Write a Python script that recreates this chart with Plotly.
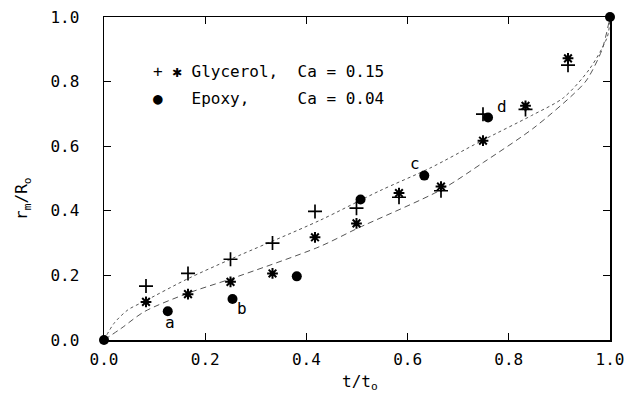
import plotly.graph_objects as go

# Glycerol, Ca = 0.15 (two runs: plus and asterisk)
gly_plus_x = [0.083, 0.166, 0.25, 0.333, 0.417, 0.499, 0.583, 0.666, 0.749, 0.833, 0.917]
gly_plus_y = [0.167, 0.206, 0.25, 0.30, 0.398, 0.408, 0.442, 0.462, 0.699, 0.714, 0.851]
gly_star_x = [0.083, 0.166, 0.25, 0.333, 0.417, 0.499, 0.583, 0.666, 0.749, 0.833, 0.917]
gly_star_y = [0.118, 0.142, 0.18, 0.206, 0.318, 0.361, 0.455, 0.475, 0.617, 0.725, 0.872]

# Epoxy, Ca = 0.04
epoxy_x = [0.0, 0.126, 0.254, 0.381, 0.507, 0.633, 0.759, 1.0]
epoxy_y = [0.0, 0.089, 0.127, 0.197, 0.435, 0.509, 0.689, 1.0]

# Curves
upper_x = [0.0, 0.02, 0.047, 0.08, 0.166, 0.25, 0.426, 0.545, 0.644, 0.743, 0.845, 0.908, 0.96, 0.995, 1.0]
upper_y = [0.0, 0.052, 0.093, 0.12, 0.19, 0.25, 0.37, 0.462, 0.532, 0.614, 0.695, 0.75, 0.84, 0.94, 1.0]
lower_x = [0.0, 0.034, 0.08, 0.166, 0.252, 0.426, 0.5, 0.666, 0.75, 0.848, 0.927, 0.954, 0.984, 1.0]
lower_y = [0.0, 0.036, 0.088, 0.145, 0.19, 0.289, 0.345, 0.465, 0.55, 0.655, 0.76, 0.805, 0.898, 1.0]

tick_vals = [0.0, 0.2, 0.4, 0.6, 0.8, 1.0]
tick_text = ["0.0", "0.2", "0.4", "0.6", "0.8", "1.0"]

point_labels = ["a", "b", "c", "d"]
label_x = [0.13, 0.273, 0.614, 0.786]
label_y = [0.054, 0.098, 0.545, 0.722]

FONT = "DejaVu Sans Mono"

fig = go.Figure()
fig.add_trace(go.Scatter(x=upper_x, y=upper_y, mode="lines", line_shape="spline",
                         line=dict(color="#555555", width=1, dash="3px,3px", smoothing=0.8), hoverinfo="skip"))
fig.add_trace(go.Scatter(x=lower_x, y=lower_y, mode="lines", line_shape="spline",
                         line=dict(color="#555555", width=1, dash="6px,4px", smoothing=0.8), hoverinfo="skip"))
fig.add_trace(go.Scatter(x=gly_plus_x, y=gly_plus_y, mode="markers",
                         marker=dict(symbol="cross-thin-open", size=10, color="black",
                                     line=dict(color="black", width=1.7)),
                         cliponaxis=False))
fig.add_trace(go.Scatter(x=gly_star_x, y=gly_star_y, mode="markers",
                         marker=dict(symbol="asterisk-open", size=9, color="black",
                                     line=dict(color="black", width=2)),
                         cliponaxis=False))
fig.add_trace(go.Scatter(x=epoxy_x, y=epoxy_y, mode="markers",
                         marker=dict(symbol="circle", size=10, color="black"),
                         cliponaxis=False))

annotations = []
for t, x, y in zip(point_labels, label_x, label_y):
    annotations.append(dict(x=x, y=y, text=t, showarrow=False, xref="x", yref="y",
                            font=dict(family=FONT, size=16, color="black")))

annotations.append(dict(x=0.093, y=0.831, text="+ \u2731 Glycerol,  Ca = 0.15", showarrow=False,
                        xref="x", yref="y", xanchor="left",
                        font=dict(family=FONT, size=16, color="black")))
annotations.append(dict(x=0.093, y=0.747, text="\u25cf   Epoxy,     Ca = 0.04", showarrow=False,
                        xref="x", yref="y", xanchor="left",
                        font=dict(family=FONT, size=16, color="black")))
annotations.append(dict(x=0.505, y=-0.133, text="t/t<sub>o</sub>", showarrow=False,
                        xref="paper", yref="paper", xanchor="center", yanchor="middle",
                        font=dict(family=FONT, size=16, color="black")))
annotations.append(dict(x=-0.16, y=0.437, text="r<sub>m</sub>/R<sub>o</sub>", showarrow=False,
                        xref="paper", yref="paper", textangle=-90, xanchor="center", yanchor="middle",
                        font=dict(family=FONT, size=16, color="black")))

axis_common = dict(range=[0, 1], tickvals=tick_vals, ticktext=tick_text, ticks="inside",
                   ticklen=7, tickwidth=1.3, tickcolor="black", showline=True, linecolor="black",
                   linewidth=1.5, mirror="ticks", showgrid=False, zeroline=False, automargin=False,
                   tickfont=dict(family=FONT, size=16, color="black"))

fig.update_layout(
    width=644, height=396,
    margin=dict(l=104, r=34, t=17, b=56),
    paper_bgcolor="white", plot_bgcolor="white",
    showlegend=False,
    hovermode=False,
    xaxis=dict(**axis_common, ticklabelstandoff=4),
    yaxis=dict(**axis_common, ticklabelstandoff=20),
    annotations=annotations,
)

# remove the page's default 8px body margin so the figure fills the window exactly
fig.write_html("out.html",
               config={"displayModeBar": False, "staticPlot": True},
               post_script="document.body.style.margin='0';document.body.style.overflow='hidden';")
